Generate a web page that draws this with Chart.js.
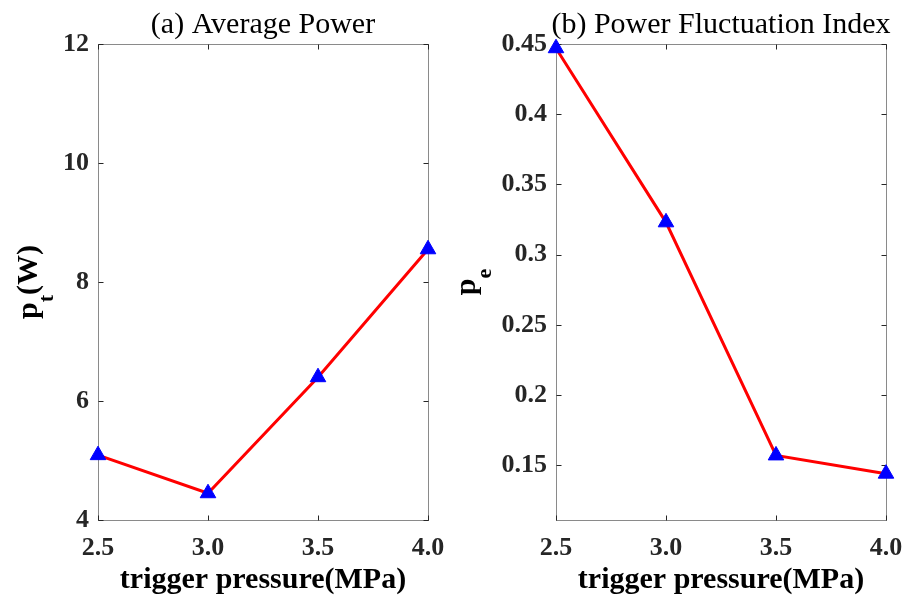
<!DOCTYPE html>
<html><head><meta charset="utf-8">
<script src="https://cdn.jsdelivr.net/npm/chart.js@4/dist/chart.umd.min.js"></script>
<style>
html,body{margin:0;padding:0;background:#fff;overflow:hidden}
#wrap{position:relative;width:908px;height:603px}
canvas{position:absolute;top:0}
</style></head><body>
<div id="wrap">
<canvas id="c1" width="454" height="603" style="left:0"></canvas>
<canvas id="c2" width="454" height="603" style="left:454px"></canvas>
</div>
<script>
// ---- data ----
const pressures = [2.5, 3.0, 3.5, 4.0];
const xTickLabels = ['2.5', '3.0', '3.5', '4.0'];
const averagePower = [5.09, 4.45, 6.40, 8.55];
const fluctuationIndex = [0.447, 0.323, 0.157, 0.144];
const powerTicks = [4, 6, 8, 10, 12];
const powerTickLabels = ['4', '6', '8', '10', '12'];
const indexTicks = [0.15, 0.2, 0.25, 0.3, 0.35, 0.4, 0.45];
const indexTickLabels = ['0.15', '0.2', '0.25', '0.3', '0.35', '0.4', '0.45'];
const panelTitles = ['(a) Average Power', '(b) Power Fluctuation Index'];
const xAxisTitle = 'trigger pressure(MPa)';
const yAxisTitles = [['p', 't', '(W)'], ['p', 'e', '']];

const SERIF = '"Liberation Serif", "Times New Roman", serif';
const TICK_COLOR = '#262626';

function framePlugin(idx, yTitleX) {
  return {
    id: 'frame' + idx,
    beforeDatasetsDraw(chart) {
      const {ctx, chartArea: a, scales} = chart;
      ctx.save();
      ctx.strokeStyle = '#8a8a8a';
      ctx.lineWidth = 1;
      const L = Math.round(a.left) + 0.5, T = Math.round(a.top) + 0.5;
      const R = Math.round(a.right) + 0.5, B = Math.round(a.bottom) + 0.5;
      ctx.strokeRect(L, T, R - L, B - T);
      ctx.strokeStyle = TICK_COLOR;
      ctx.beginPath();
      scales.x.ticks.forEach(t => {
        const x = Math.round(scales.x.getPixelForValue(t.value)) + 0.5;
        ctx.moveTo(x, B); ctx.lineTo(x, B - 5);
        ctx.moveTo(x, T); ctx.lineTo(x, T + 5);
      });
      scales.y.ticks.forEach(t => {
        const y = Math.round(scales.y.getPixelForValue(t.value)) + 0.5;
        ctx.moveTo(L, y); ctx.lineTo(L + 5, y);
        ctx.moveTo(R, y); ctx.lineTo(R - 5, y);
      });
      ctx.stroke();
      ctx.restore();
    },
    afterDraw(chart) {
      const {ctx, chartArea: a} = chart;
      const cx = (a.left + a.right) / 2;
      ctx.save();
      ctx.fillStyle = '#000';
      ctx.textAlign = 'center';
      ctx.textBaseline = 'alphabetic';
      ctx.font = '30px ' + SERIF;
      ctx.fillText(panelTitles[idx], cx, 33);
      ctx.font = 'bold 30px ' + SERIF;
      ctx.fillText(xAxisTitle, cx, 588);
      // y title with subscript
      const [main, sub, rest] = yAxisTitles[idx];
      const fMain = 'bold 30px ' + SERIF, fSub = 'bold 22px ' + SERIF;
      ctx.font = fMain; const w1 = ctx.measureText(main).width; const w3 = ctx.measureText(rest).width;
      ctx.font = fSub; const w2 = ctx.measureText(sub).width;
      const total = w1 + w2 + w3;
      ctx.translate(yTitleX, (a.top + a.bottom) / 2);
      ctx.rotate(-Math.PI / 2);
      ctx.textAlign = 'left';
      const s = -total / 2;
      ctx.font = fMain; ctx.fillText(main, s, 0);
      ctx.font = fSub; ctx.fillText(sub, s + w1, 16);
      ctx.font = fMain; ctx.fillText(rest, s + w1 + w2, 0);
      ctx.restore();
    }
  };
}

function makeChart(canvasId, idx, values, yMin, yMax, yTicks, yLabels, yWidth, padRight, yTitleX) {
  return new Chart(document.getElementById(canvasId), {
    type: 'line',
    data: {
      datasets: [{
        data: pressures.map((p, i) => ({x: p, y: values[i]})),
        borderColor: '#ff0000',
        borderWidth: 3,
        pointStyle: 'triangle',
        pointRadius: 9,
        pointHoverRadius: 9,
        pointBackgroundColor: '#0000ff',
        pointBorderColor: '#0000ff',
        pointBorderWidth: 1,
        tension: 0,
        clip: false
      }]
    },
    options: {
      responsive: false,
      animation: false,
      devicePixelRatio: 1,
      events: [],
      layout: {padding: {top: 44, right: padRight, left: 0, bottom: 0}},
      plugins: {legend: {display: false}, title: {display: false}, tooltip: {enabled: false}},
      scales: {
        x: {
          type: 'linear',
          min: pressures[0], max: pressures[pressures.length - 1],
          grid: {display: false, drawTicks: false},
          border: {display: false},
          afterBuildTicks: sc => { sc.ticks = pressures.map(v => ({value: v})); },
          afterFit: sc => { sc.height = 83; sc.paddingLeft = 0; sc.paddingRight = 0; },
          ticks: {
            padding: 13,
            color: TICK_COLOR,
            maxRotation: 0,
            autoSkip: false,
            font: {family: SERIF, size: 26, weight: 'bold'},
            callback: (v, i) => xTickLabels[i]
          }
        },
        y: {
          type: 'linear',
          min: yMin, max: yMax,
          grid: {display: false, drawTicks: false},
          border: {display: false},
          afterBuildTicks: sc => { sc.ticks = yTicks.map(v => ({value: v})); },
          afterFit: sc => { sc.width = yWidth; sc.paddingTop = 0; sc.paddingBottom = 0; },
          ticks: {
            padding: 9,
            color: TICK_COLOR,
            autoSkip: false,
            font: {family: SERIF, size: 26, weight: 'bold'},
            callback: (v, i) => yLabels[i]
          }
        }
      }
    },
    plugins: [framePlugin(idx, yTitleX)]
  });
}

makeChart('c1', 0, averagePower, 4, 12, powerTicks, powerTickLabels, 98, 26, 37);
makeChart('c2', 1, fluctuationIndex, 0.111, 0.45, indexTicks, indexTickLabels, 102, 22, 21);
</script>
</body></html>
